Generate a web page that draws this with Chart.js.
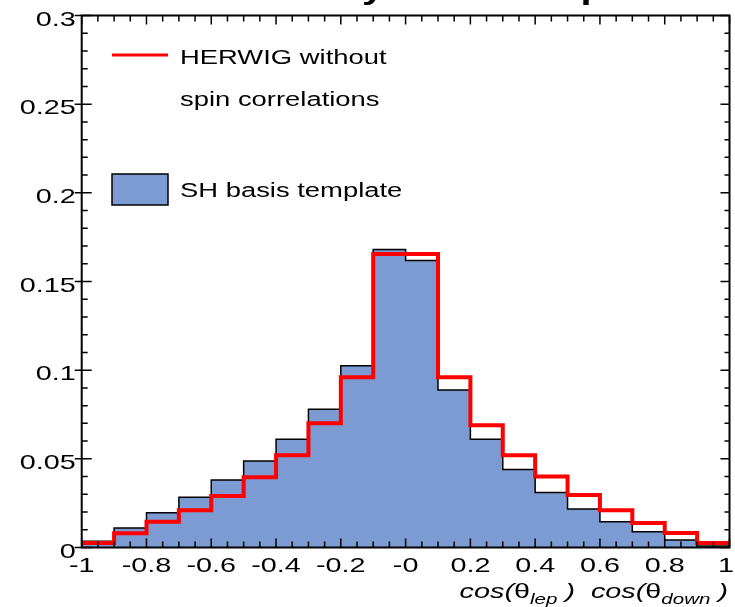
<!DOCTYPE html>
<html>
<head>
<meta charset="utf-8">
<script src="https://cdn.jsdelivr.net/npm/chart.js@4"></script>
<style>
  body { margin: 0; background: #fff; }
  #wrap { width: 735px; height: 607px; position: relative; }
</style>
</head>
<body>
<div id="wrap"><canvas id="hist"></canvas></div>
<script>
// bin lower edges, last bin ends at binEnd
const binLow = [-1, -0.9, -0.8, -0.7, -0.6, -0.5, -0.4, -0.3, -0.2, -0.1, 0, 0.1, 0.2, 0.3, 0.4, 0.5, 0.6, 0.7, 0.8, 0.9];
const binEnd = 1;

const shTemplate = [0.0035, 0.011, 0.0196, 0.0283, 0.038, 0.0488, 0.061, 0.078, 0.1025, 0.168,
                    0.1618, 0.0888, 0.061, 0.044, 0.031, 0.0217, 0.0145, 0.0089, 0.0042, 0.0008];
const herwigNoSpin = [0.0025, 0.008, 0.0145, 0.021, 0.029, 0.0396, 0.052, 0.070, 0.096, 0.1655,
                      0.1655, 0.096, 0.069, 0.052, 0.040, 0.0296, 0.021, 0.0138, 0.0082, 0.0025];

const xTickValues = [-1, -0.8, -0.6, -0.4, -0.2, 0, 0.2, 0.4, 0.6, 0.8, 1];
const xTickLabels = ['-1', '-0.8', '-0.6', '-0.4', '-0.2', '-0', '0.2', '0.4', '0.6', '0.8', '1'];
const yTickValues = [0, 0.05, 0.1, 0.15, 0.2, 0.25, 0.3];
const yTickLabels = ['0', '0.05', '0.1', '0.15', '0.2', '0.25', '0.3'];

const seriesNames = ['HERWIG without', 'spin correlations', 'SH basis template'];
const titleText = 'Sensitivity to SH template';

const BLUE = '#7b9bd2';
const RED = '#ff0000';
const FONT = '"Liberation Sans", Arial, Helvetica, sans-serif';
const SX = 1.37; // the reference text is stretched horizontally

// histogram outline: drop to zero at both ends
function histPoints(vals) {
  const pts = [{ x: binLow[0], y: 0 }];
  vals.forEach((v, i) => pts.push({ x: binLow[i], y: v }));
  pts.push({ x: binEnd, y: 0 });
  return pts;
}
// step line without end drops
function stepPoints(vals) {
  const pts = vals.map((v, i) => ({ x: binLow[i], y: v }));
  pts.push({ x: binEnd, y: vals[vals.length - 1] });
  return pts;
}

function wideText(ctx, text, x, y, font, align, sx) {
  ctx.save();
  ctx.font = font;
  const w = ctx.measureText(text).width * sx;
  let x0 = x;
  if (align === 'center') x0 = x - w / 2;
  else if (align === 'right') x0 = x - w;
  ctx.translate(x0, y);
  ctx.scale(sx, 1);
  ctx.textAlign = 'left';
  ctx.textBaseline = 'alphabetic';
  ctx.fillText(text, 0, 0);
  ctx.restore();
  return w;
}

const framePlugin = {
  id: 'frame',
  afterDatasetsDraw(chart) {
    const ctx = chart.ctx;
    const a = chart.chartArea;
    const xs = chart.scales.x, ys = chart.scales.y;
    ctx.save();
    ctx.strokeStyle = '#000';
    ctx.lineWidth = 1.5;
    ctx.beginPath();
    // x ticks, top and bottom
    for (let i = 0; i <= 40; i++) {
      const px = xs.getPixelForValue(-1 + i * 0.05);
      const len = i % 4 === 0 ? 9 : 6;
      ctx.moveTo(px, a.bottom); ctx.lineTo(px, a.bottom - len);
      ctx.moveTo(px, a.top); ctx.lineTo(px, a.top + len);
    }
    // y ticks, left and right
    for (let i = 0; i <= 30; i++) {
      const py = ys.getPixelForValue(i * 0.01);
      const major = i % 5 === 0;
      ctx.moveTo(a.left - (major ? 7 : 0), py); ctx.lineTo(a.left + (major ? 10 : 6), py);
      ctx.moveTo(a.right, py); ctx.lineTo(a.right - (major ? 9 : 5), py);
    }
    ctx.stroke();
    ctx.lineWidth = 2;
    ctx.strokeRect(a.left, a.top, a.right - a.left, a.bottom - a.top);

    // tick labels
    ctx.fillStyle = '#000';
    const tf = '21px ' + FONT;
    yTickValues.forEach((v, i) => {
      wideText(ctx, yTickLabels[i], a.left - 6, ys.getPixelForValue(v) + 10, tf, 'right', SX);
    });
    xTickValues.forEach((v, i) => {
      let px = xs.getPixelForValue(v);
      if (i === xTickValues.length - 1) px = Math.min(px, 734 - 8);
      wideText(ctx, xTickLabels[i], px, 572, tf, 'center', SX);
    });

    // x axis title: cos(θ_lep ) cos(θ_down )
    const it = 'italic 21px ' + FONT;
    const up = '21px ' + FONT;
    const sub = 'italic 15px ' + FONT;
    const parts = [
      ['cos(', it, 0], ['θ', up, 0], ['lep', sub, 6], [' )  cos(', it, 0],
      ['θ', up, 0], ['down', sub, 6], [' )', it, 0]
    ];
    let total = 0;
    parts.forEach(p => { ctx.font = p[1]; total += ctx.measureText(p[0]).width * SX; });
    let cx = 728 - total;
    parts.forEach(p => { cx += wideText(ctx, p[0], cx, 598 + p[2], p[1], 'left', SX); });

    // title, mostly above the canvas edge
    const bf = 'bold 29px ' + FONT;
    ctx.font = bf;
    const pre = ctx.measureText('Sensitivit').width;
    const yw = ctx.measureText('y').width;
    wideText(ctx, titleText, 373 - (pre + yw / 2) * SX, -1, bf, 'left', SX);

    // legend
    ctx.strokeStyle = RED;
    ctx.lineWidth = 3;
    ctx.beginPath(); ctx.moveTo(112, 55); ctx.lineTo(168, 55); ctx.stroke();
    const lf = '20px ' + FONT;
    wideText(ctx, seriesNames[0], 180, 64, lf, 'left', SX);
    wideText(ctx, seriesNames[1], 180, 106, lf, 'left', SX);
    ctx.fillStyle = BLUE;
    ctx.fillRect(112, 174, 56, 31);
    ctx.strokeStyle = '#000';
    ctx.lineWidth = 1.5;
    ctx.strokeRect(112, 174, 56, 31);
    ctx.fillStyle = '#000';
    wideText(ctx, seriesNames[2], 180, 197, lf, 'left', SX);
    ctx.restore();
  }
};

const ctx = document.getElementById('hist').getContext('2d');
new Chart(ctx, {
  type: 'line',
  data: {
    datasets: [
      {
        label: seriesNames[0] + ' ' + seriesNames[1],
        data: stepPoints(herwigNoSpin),
        borderColor: RED,
        borderWidth: 4,
        fill: false,
        stepped: 'before',
        pointRadius: 0,
        borderJoinStyle: 'miter',
        borderCapStyle: 'butt'
      },
      {
        label: seriesNames[2],
        data: histPoints(shTemplate),
        borderColor: '#000',
        borderWidth: 1.5,
        backgroundColor: BLUE,
        fill: 'origin',
        stepped: 'before',
        pointRadius: 0,
        borderJoinStyle: 'miter'
      }
    ]
  },
  options: {
    responsive: true,
    maintainAspectRatio: false,
    animation: false,
    events: [],
    layout: { padding: { top: 15.5, right: 5.5, left: 0, bottom: 0 } },
    plugins: { legend: { display: false }, tooltip: { enabled: false }, title: { display: false } },
    scales: {
      x: {
        type: 'linear', min: -1, max: 1,
        ticks: { display: false },
        grid: { display: false },
        border: { display: false },
        afterFit(scale) { scale.height = 59.5; }
      },
      y: {
        min: 0, max: 0.3,
        ticks: { display: false },
        grid: { display: false },
        border: { display: false },
        afterFit(scale) { scale.width = 81.7; }
      }
    }
  },
  plugins: [framePlugin]
});
</script>
</body>
</html>
